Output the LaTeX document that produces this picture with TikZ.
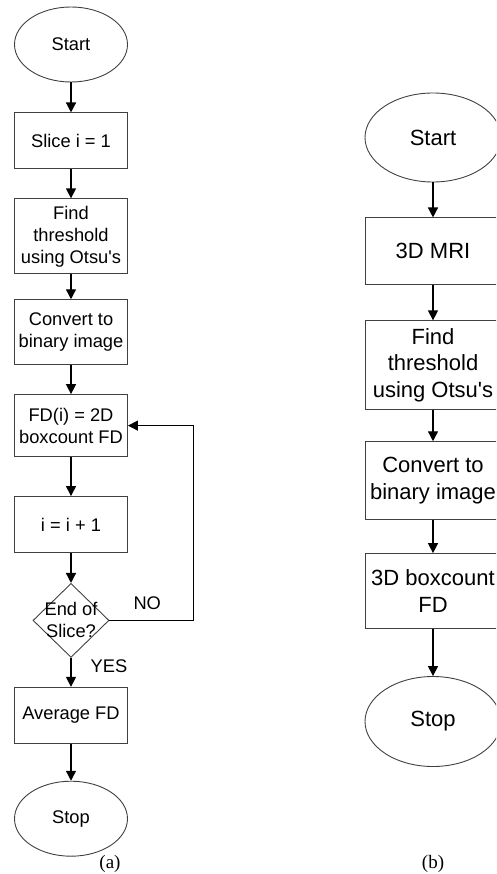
\documentclass[tikz,border=0pt]{standalone}
\usepackage{fontspec}
\setmainfont{Liberation Serif}
\setsansfont{Liberation Sans}
\usetikzlibrary{positioning,shapes.geometric,arrows.meta}

\tikzset{
	block/.style={draw=black!75, line width=0.9pt, rectangle, minimum width=113pt, align=center, inner sep=2pt, font=\sffamily\fontsize{18.3}{22}\selectfont},
	terminal/.style={block, ellipse, minimum height=75pt},
	decision/.style={draw=black!75, line width=0.9pt, diamond, minimum width=76pt, minimum height=74pt, inner sep=0pt},
	bigblock/.style={block, minimum width=136pt, font=\sffamily\fontsize{22}{26.5}\selectfont},
	bigterminal/.style={bigblock, ellipse},
	flow/.style={draw=black, line width=1.4pt, -{Triangle[length=10pt,width=10pt]}},
	tag/.style={font=\sffamily\fontsize{18.3}{22}\selectfont, inner sep=2pt},
	caption/.style={font=\rmfamily\fontsize{19}{22}\selectfont}
}

\begin{document}
\begin{tikzpicture}[x=1pt,y=-1pt]
	\useasboundingbox (0,0) rectangle (496,874);
	\clip (0,0) rectangle (496,874);
	
	% (a) slice by slice
	\node [terminal] (start) at (71,44.5) {Start};
	\node [block, minimum height=56pt, below=30pt of start] (slice) {Slice i = 1};
	\node [block, minimum height=75pt, below=29pt of slice] (find) {Find\\threshold\\using Otsu\textquotesingle s};
	\node [block, minimum height=65pt, below=25pt of find] (conv) {Convert to\\binary image};
	\node [block, minimum height=62pt, below=29pt of conv] (fdi) {FD(i) = 2D\\boxcount FD};
	\node [block, minimum height=56pt, below=39pt of fdi] (incr) {i = i + 1};
	\node [decision, below=30pt of incr, label={[tag, align=center]center:{End of\\Slice?}}] (endq) {};
	\node [block, minimum height=56pt, below=29pt of endq] (avg) {Average FD};
	\node [terminal, below=37pt of avg] (stop) {Stop};
	
	\draw [flow] (start) -- (slice);
	\draw [flow] (slice) -- (find);
	\draw [flow] (find) -- (conv);
	\draw [flow] (conv) -- (fdi);
	\draw [flow] (fdi) -- (incr);
	\draw [flow] (incr) -- (endq);
	\draw [flow] (endq) -- node [tag, right=17pt, pos=0.3] {YES} (avg);
	\draw [flow] (avg) -- (stop);
	\draw [flow] (endq.east) -- node [tag, above=8pt, pos=0.45] {NO} ++(84pt,0) |- (fdi.east);
	
	% (b) whole volume
	\node [bigterminal, minimum height=89pt] (startb) at (433,137.5) {Start};
	\node [bigblock, minimum height=67pt, below=35pt of startb] (mri) {3D MRI};
	\node [bigblock, minimum height=89pt, below=35pt of mri] (findb) {Find\\threshold\\using Otsu\textquotesingle s};
	\node [bigblock, minimum height=78pt, below=31pt of findb] (convb) {Convert to\\binary image};
	\node [bigblock, minimum height=75pt, below=33pt of convb] (boxb) {3D boxcount\\FD};
	\node [bigterminal, minimum height=90pt, below=47pt of boxb] (stopb) {Stop};
	
	\draw [flow] (startb) -- (mri);
	\draw [flow] (mri) -- (findb);
	\draw [flow] (findb) -- (convb);
	\draw [flow] (convb) -- (boxb);
	\draw [flow] (boxb) -- (stopb);
	
	\node [caption] (capa) at (110,864) {(a)};
	\node [caption] (capb) at (433,864) {(b)};
\end{tikzpicture}
\end{document}
